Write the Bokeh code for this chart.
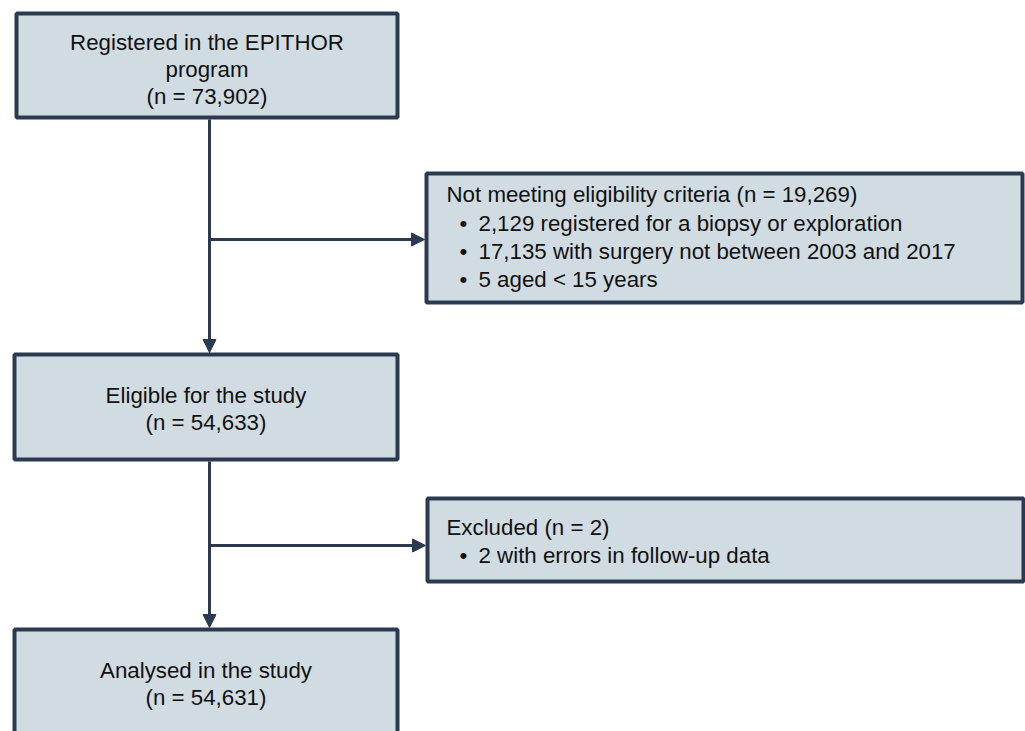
from bokeh.plotting import figure
from bokeh.models import Range1d, Arrow, NormalHead
from bokeh.core.properties import value
from bokeh.embed import file_html
from bokeh.resources import INLINE

# ---- content ----
main_titles = ["Registered in the EPITHOR\nprogram", "Eligible for the study", "Analysed in the study"]
main_counts = ["73,902", "54,633", "54,631"]
side_titles = ["Not meeting eligibility criteria (n = 19,269)", "Excluded (n = 2)"]
side_bullets = [
    ["2,129 registered for a biopsy or exploration",
     "17,135 with surgery not between 2003 and 2017",
     "5 aged < 15 years"],
    ["2 with errors in follow-up data"],
]

# ---- layout (pixel coordinates of the picture) ----
main_boxes = [(16, 397, 13, 117), (14, 397, 354, 459), (14, 397, 629, 760)]
side_boxes = [(426, 1022, 173, 302), (427, 1023, 498, 581)]
main_line_y = [[42, 69, 96], [395, 422], [670, 697]]
side_line_y = [[194, 223, 251, 279], [527, 555]]
trunk_x = 209
branch_y = [239, 545]

FILL = "#d0dce2"
EDGE = "#2b3a4f"
FONT = value("Liberation Sans")
FS = "22.3px"

W, H = 1025, 731
p = figure(width=W, height=H, output_backend="svg", toolbar_location=None,
           x_range=Range1d(0, W), y_range=Range1d(H, 0), min_border=0)
p.axis.visible = False
p.grid.visible = False
p.outline_line_color = None
p.background_fill_color = "white"

# trunk arrows
mb = main_boxes
for i in range(len(mb) - 1):
    p.add_layout(Arrow(end=NormalHead(size=13, fill_color=EDGE, line_color=EDGE, line_width=1),
                       x_start=trunk_x, y_start=mb[i][3] + 2, x_end=trunk_x, y_end=mb[i + 1][2] - 2,
                       line_color=EDGE, line_width=3))
# branch arrows
for j, by in enumerate(branch_y):
    p.add_layout(Arrow(end=NormalHead(size=13, fill_color=EDGE, line_color=EDGE, line_width=1),
                       x_start=trunk_x, y_start=by, x_end=side_boxes[j][0] - 2, y_end=by,
                       line_color=EDGE, line_width=3))

# boxes
allb = main_boxes + side_boxes
p.quad(left=[b[0] for b in allb], right=[b[1] for b in allb],
       top=[b[2] for b in allb], bottom=[b[3] for b in allb],
       fill_color=FILL, line_color=EDGE, line_width=4)

# main texts
xs, ys, ts = [], [], []
for k, (title, cnt) in enumerate(zip(main_titles, main_counts)):
    lines = title.split("\n") + ["(n = %s)" % cnt]
    cx = (main_boxes[k][0] + main_boxes[k][1]) / 2
    for ln, yy in zip(lines, main_line_y[k]):
        xs.append(cx); ys.append(yy); ts.append(ln)
p.text(x=xs, y=ys, text=ts, text_font=FONT, text_font_size=FS, text_color="#111111",
       text_align="center", text_baseline="middle")

# side texts
xs, ys, ts = [], [], []
bx, by_, bt = [], [], []
for k, title in enumerate(side_titles):
    yl = side_line_y[k]
    xs.append(446); ys.append(yl[0]); ts.append(title)
    for ln, yy in zip(side_bullets[k], yl[1:]):
        xs.append(478); ys.append(yy); ts.append(ln)
        bx.append(463); by_.append(yy); bt.append("•")
p.text(x=xs, y=ys, text=ts, text_font=FONT, text_font_size=FS, text_color="#111111",
       text_align="left", text_baseline="middle")
p.text(x=bx, y=by_, text=bt, text_font=FONT, text_font_size=FS, text_color="#111111",
       text_align="center", text_baseline="middle")

open("out.html", "w").write(file_html(p, INLINE))
